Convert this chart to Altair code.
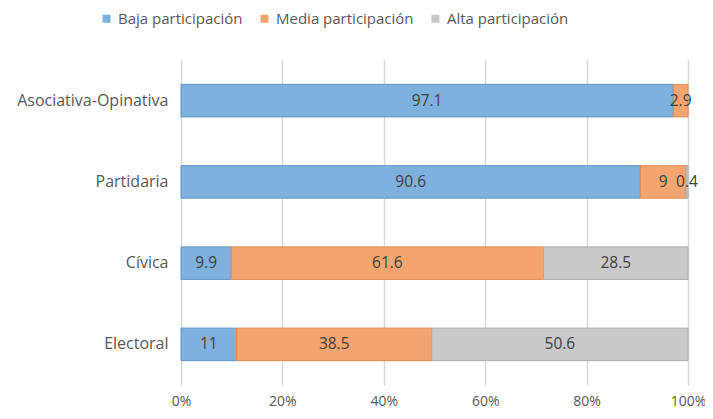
import altair as alt
import pandas as pd

categories = ["Asociativa-Opinativa", "Partidaria", "Cívica", "Electoral"]
series = ["Baja participación", "Media participación", "Alta participación"]
baja = [97.1, 90.6, 9.9, 11]
media = [2.9, 9, 61.6, 38.5]
alta = [None, 0.4, 28.5, 50.6]
colors = ["#7fb1de", "#f4a46e", "#c9c9c9"]
strokes = ["#5f95c8", "#e48a50", "#ababab"]

rows = []
for i, cat in enumerate(categories):
    vals = [baja[i], media[i], alta[i]]
    total = sum(v for v in vals if v is not None)
    start = 0.0
    for j, s in enumerate(series):
        v = vals[j]
        if v is None:
            continue
        end = start + v / total
        rows.append({"cat": cat, "serie": s, "order": j, "value": v,
                     "start": start, "end": end, "mid": (start + end) / 2,
                     "label": f"{v:g}"})
        start = end
df = pd.DataFrame(rows)

y = alt.Y("cat:N", sort=categories, title=None,
          scale=alt.Scale(paddingInner=0.6, paddingOuter=0.3),
          axis=alt.Axis(labelFont="Open Sans", labelFontSize=16, labelColor="#595959",
                        ticks=False, labelPadding=13, domain=False, labelLimit=300))

x = alt.X("start:Q", title=None,
          scale=alt.Scale(domain=[0, 1], nice=False),
          axis=alt.Axis(format=".0%", values=[0, 0.2, 0.4, 0.6, 0.8, 1.0],
                        labelFont="Open Sans", labelFontSize=14, labelColor="#595959",
                        labelFlush=False,
                        grid=True, gridColor="#d9d9d9", gridWidth=1.5,
                        domain=False, ticks=False, labelPadding=9))

bars = alt.Chart(df).mark_bar(strokeWidth=1).encode(
    y=y,
    x=x,
    x2="end:Q",
    color=alt.Color("serie:N", sort=series,
                    scale=alt.Scale(domain=series, range=colors),
                    legend=alt.Legend(title=None, orient="none", direction="horizontal",
                                      legendX=-82, legendY=-49,
                                      symbolType="square", symbolSize=64,
                                      labelFont="Open Sans", labelFontSize=15,
                                      labelColor="#595959", columnPadding=14,
                                      labelLimit=300,
                                      symbolStrokeWidth=0)),
    stroke=alt.Stroke("serie:N", sort=series,
                      scale=alt.Scale(domain=series, range=strokes), legend=None),
)

labels = alt.Chart(df).mark_text(font="Open Sans", fontSize=15.5, color="#404040").encode(
    y=alt.Y("cat:N", sort=categories),
    x=alt.X("mid:Q"),
    text="label:N",
)

chart = alt.layer(bars, labels).properties(
    width=507, height=325,
    autosize=alt.AutoSizeParams(type="none"),
    padding={"left": 173, "top": 52, "right": 17, "bottom": 26},
).configure_view(stroke=None)

chart.save("out.html", embed_options={"renderer": "svg", "actions": False})
